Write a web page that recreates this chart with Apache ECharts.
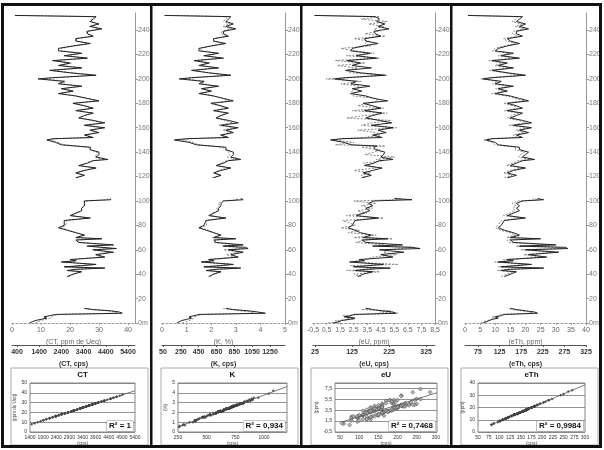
<!DOCTYPE html>
<html><head><meta charset="utf-8">
<script src="https://cdn.jsdelivr.net/npm/echarts@6.0.0/dist/echarts.min.js"></script>
<style>html,body{margin:0;padding:0;background:#fff}#c{width:604px;height:450px}</style>
</head><body><div id="c"></div>
<script>
// ---- data (depth in m; null = gap in the log) ----
const depthM = [0,1,2,3,4,5,6,7,8,9,10,11,12, null,
 38,40,42,43,44,45,46,47,48,50, 51,52,54,56,58,60,61,62,63,64, 66,68,69,70,72,74,76,78,80,84, 86,88,90,92,94,96,98,100,101,102, null,
 119,121,123,125,127,129,131,133,134,136,138,140,142,144, 145,146,148,150,151,152,
 154,156,158,160,162,164,166,168,170,172,174,176,178,180,182,184,186,188,190,192,194,196,198,200, 201,
 203,205,207,209,211,213,215,217,219,221,223,225,227,229,231,233,235,237,239,241,243,245,247,249,251, 252];

const ctPpm = [6,7,8,10,12,11,13,15,38,37,34,28,25, null,
 19,21,24,19,22,32,18,24,29,17, 22,20,32,29,35,28,36,36,26,35, 23,22,31,22,25,22,19,16,18,18, 27,20,22,24,24,25,25,25,34,34, null,
 22,25,22,25,29,23,26,28,33,29,30,30,27,27, 27,17,15,12,14,28,
 25,30,27,32,25,32,28,23,25,28,22,28,25,21,30,26,22,16,21,17,24,16,18,9, 14,
 29,20,13,24,16,20,14,26,18,24,16,16,21,27,22,22,28,26,26,31,27,30,27,28,29, 1];
const ctCps = [1230,1320,1460,1690,1900,1810,2020,2270,4920,4820,4460,3780,3410, null,
 2720,2970,3300,2740,3060,4240,2600,3320,3880,2500, 3080,2830,4220,3900,4570,3780,4710,4690,3550,4590, 3180,3080,4110,3060,3430,3080,2720,2390,2600,2620, 3640,2850,3060,3320,3300,3430,3410,3420,4480,4460, null,
 3080,3410,3060,3430,3880,3200,3530,3780,4340,3900,3990,4010,3660,3640, 3650,2500,2250,1920,2140,3780,
 3430,3990,3660,4220,3410,4240,3760,3200,3430,3760,3060,3780,3410,2970,4010,3530,3080,2370,2970,2480,3320,2390,2600,1580, 2160,
 3880,2850,2020,3320,2370,2850,2140,3550,2600,3320,2390,2370,2970,3640,3080,3060,3780,3550,3530,4130,3640,4010,3660,3760,3880, 650];

const kPct = [0.6,0.7,0.8,1.0,1.2,1.1,1.3,1.5,4.2,3.9,3.5,2.9,2.6, null,
 1.9,2.1,2.4,1.8,2.2,3.2,1.7,2.4,2.9,1.6, 2.1,1.9,3.1,2.8,3.3,2.7,3.5,3.4,2.5,3.3, 2.2,2.1,3.0,2.1,2.4,2.1,1.8,1.5,1.7,1.8, 2.6,1.9,2.1,2.3,2.3,2.4,2.4,2.5,3.3,3.2, null,
 2.1,2.4,2.1,2.4,2.8,2.2,2.5,2.7,3.2,2.8,2.9,2.9,2.6,2.6, 2.6,1.4,1.1,0.5,1.0,2.7,
 2.4,2.9,2.6,3.1,2.4,3.1,2.7,2.2,2.4,2.7,2.1,2.7,2.4,2.0,2.9,2.5,2.1,1.5,2.0,1.6,2.3,1.5,1.7,0.7, 1.2,
 2.8,1.9,1.2,2.3,1.5,1.9,1.3,2.5,1.7,2.3,1.5,1.5,2.0,2.6,2.1,2.1,2.7,2.5,2.5,3.0,2.6,2.9,2.6,2.7,2.8, 0.1];
const kCps = [265,310,300,380,395,400,420,490,1080,1040,910,810,715, null,
 580,600,700,530,650,880,510,670,820,480, 630,560,860,760,900,730,950,890,720,870, 620,640,830,600,690,620,560,460,540,530, 740,580,600,670,650,690,670,720,900,850, null,
 600,690,625,670,790,650,710,760,880,770,800,790,740,720, 730,440,400,260,350,760,
 690,810,720,850,670,830,740,640,700,750,610,770,680,580,790,710,620,470,600,500,660,480,520,290, 410,
 780,560,400,650,470,580,430,700,530,670,480,460,590,730,610,620,760,700,710,820,720,800,730,750,780, 160];

const euPpm = [1.0,1.4,1.6,2.2,2.6,1.8,2.3,2.5,5.6,5.4,4.6,3.9,3.4, null,
 2.8,3.2,3.9,2.6,3.4,5.2,2.5,3.6,4.7,2.2, 3.3,2.9,5.4,4.5,6.2,4.4,7.4,6.8,3.9,6.1, 3.4,3.1,5.0,3.2,3.8,3.0,2.6,2.1,2.4,2.6, 4.3,2.7,3.2,3.7,3.4,3.9,3.6,4.0,6.8,5.5, null,
 3.1,3.8,3.2,3.9,4.6,3.3,4.0,4.4,5.4,4.5,4.7,4.8,4.1,4.0, 4.2,2.3,1.8,0.8,1.6,4.6,
 3.9,4.9,4.3,5.4,3.8,5.3,4.4,3.4,3.9,4.6,3.3,4.5,3.9,3.2,5.0,4.0,3.4,2.3,3.1,2.4,3.7,2.3,2.7,1.1, 1.9,
 4.8,3.0,1.9,3.8,2.4,3.0,2.0,4.2,2.7,3.7,2.3,2.4,3.2,4.3,3.4,3.3,4.5,4.1,4.0,5.1,4.3,4.8,4.2,4.4,4.1, -0.4];
const euCps = [60,95,80,130,110,120,100,150,250,200,230,150,175, null,
 150,130,200,110,185,170,165,120,250,130, 140,160,180,245,210,220,260,285,195,210, 135,160,235,130,190,115,145,95,135,100, 210,110,165,140,180,150,190,130,240,260, null,
 160,150,175,130,190,170,155,210,190,240,160,185,200,150, 215,80,130,75,100,160,
 200,190,140,245,150,180,230,110,160,220,125,210,140,165,195,190,130,120,125,140,145,95,150,55, 120,
 220,120,110,140,85,160,80,200,110,185,130,95,175,160,170,130,215,160,195,185,210,170,220,150,200, 25];

const ethPpm = [6,7,8,9,11,10,12,13,24,23,20,17,15, null,
 13,15,17,12,15,26,12,17,22,11, 16,14,27,21,31,20,34,33,18,30, 16,15,25,15,18,16,13,11,12,13, 20,14,16,18,17,18,17,19,26,24, null,
 14,17,14,16,20,15,17,19,23,19,20,21,18,18, 18,11,10,7,9,19,
 17,21,18,22,16,22,19,15,17,19,14,19,17,14,21,18,15,10,14,11,16,10,12,6, 9,
 20,14,9,16,11,14,9,18,12,16,10,11,14,18,15,14,19,17,17,21,18,20,17,18,19, 1];
const ethCps = [82,87,96,100,116,107,122,127,203,194,176,154,143, null,
 129,141,156,120,143,216,122,155,189,114, 149,134,223,181,250,174,270,261,163,243, 147,142,208,141,162,149,127,116,121,129, 176,134,148,161,156,163,154,169,214,203, null,
 136,154,134,149,176,141,156,167,196,169,174,183,161,163, 162,114,109,87,102,168,
 156,181,163,189,147,187,169,143,154,168,136,167,156,134,183,161,142,107,135,116,148,109,120,81, 101,
 175,136,102,149,114,134,100,163,122,147,108,115,136,161,143,134,169,155,157,181,162,176,154,163,167, 48];

// tick labels
const depthTicks = [0,20,40,60,80,100,120,140,160,180,200,220,240];
const ctPpmTicks = [0,10,20,30,40];
const ctCpsTicks = [400,1400,2400,3400,4400,5400];
const kPctTicks = [0,1,2,3,4,5];
const kCpsTicks = [50,250,450,650,850,1050,1250];
const euPpmTicks = [-0.5,0.5,1.5,2.5,3.5,4.5,5.5,6.5,7.5,8.5];
const euCpsTicks = [25,125,225,325];
const ethPpmTicks = [0,5,10,15,20,25,30,35,40];
const ethCpsTicks = [75,125,175,225,275,325];
const titles = ['CT','K','eU','eTh'];
const r2Labels = ['R\u00b2 = 1','R\u00b2 = 0,934','R\u00b2 = 0,7468','R\u00b2 = 0,9984'];
const ppmNames = ['(CT, ppm de Ueq)','(K, %)','(eU, ppm)','(eTh, ppm)'];
const cpsNames = ['(CT, cps)','(K, cps)','(eU, cps)','(eTh, cps)'];
const scYNames = ['(ppm de Ueq)','(%)','(ppm)','(ppm)'];
const scXTicks = [
  [1400,1900,2400,2900,3400,3900,4400,4900,5400],
  [250,500,750,1000],
  [50,100,150,200,250,300],
  [50,75,100,125,150,175,200,225,250,275,300]
];
const scYTicks = [[0,10,20,30,40,50],[0,1,2,3,4,5],[-0.5,1.5,3.5,5.5,7.5],[0,10,20,30,40]];

// ---- layout ----
const ppmArr = [ctPpm,kPct,euPpm,ethPpm];
const cpsArr = [ctCps,kCps,euCps,ethCps];
const ppmTk = [ctPpmTicks,kPctTicks,euPpmTicks,ethPpmTicks];
const cpsTk = [ctCpsTicks,kCpsTicks,euCpsTicks,ethCpsTicks];
const L = [
 {left:12,width:123,pMin:0,pMax:42.4,cMin:175,cMax:5716},
 {left:162,width:123,pMin:0,pMax:5,cMin:38.8,cMax:1418},
 {left:313,width:122,pMin:-0.5,pMax:8.5,cMin:19.6,cMax:349},
 {left:465,width:121,pMin:0,pMax:40,cMin:45,cMax:325}
];
const S = [
 {left:30,width:105,xMin:1400,xMax:5400,yMin:0,yMax:50,yInt:10},
 {left:178,width:109,xMin:250,xMax:1200,yMin:0,yMax:5,yInt:1},
 {left:335,width:102,xMin:37,xMax:303,yMin:-0.5,yMax:8.5,yInt:2},
 {left:478,width:107,xMin:50,xMax:300,yMin:0,yMax:40,yInt:10}
];
const comma = v => String(v).replace('.',',');
const plain = v => String(v);
const FONT = 'Liberation Sans, Arial, sans-serif';

const grid=[], xAxis=[], yAxis=[], series=[];
for (let i=0;i<4;i++){
  const g=L[i];
  grid.push({left:g.left,width:g.width,top:13,height:310,outerBoundsMode:'none'});
  xAxis.push({type:'value',gridIndex:i,position:'bottom',min:g.pMin,max:g.pMax,
    name:ppmNames[i],nameLocation:'middle',nameGap:16,
    nameTextStyle:{fontSize:7,color:'#666',fontFamily:FONT},
    axisLine:{show:true,onZero:false,lineStyle:{color:'#999',type:[2,2],width:1}},
    axisTick:{show:true,length:2,lineStyle:{color:'#999'},customValues:ppmTk[i]},
    axisLabel:{fontSize:7,color:'#666',margin:4,fontFamily:FONT,customValues:ppmTk[i],formatter:comma},
    splitLine:{show:false}});
  xAxis.push({type:'value',gridIndex:i,position:'bottom',offset:22,min:g.cMin,max:g.cMax,
    name:cpsNames[i],nameLocation:'middle',nameGap:16,
    nameTextStyle:{fontSize:7,color:'#333',fontWeight:'bold',fontFamily:FONT},
    axisLine:{show:true,onZero:false,lineStyle:{color:'#555',width:1}},
    axisTick:{show:true,length:2,lineStyle:{color:'#555'},customValues:cpsTk[i]},
    axisLabel:{fontSize:7,color:'#333',fontWeight:'bold',margin:4,fontFamily:FONT,customValues:cpsTk[i],formatter:plain},
    splitLine:{show:false}});
  yAxis.push({type:'value',gridIndex:i,position:'right',min:0,max:254,
    axisLine:{show:true,onZero:false,lineStyle:{color:'#999'}},
    axisTick:{show:true,length:3,lineStyle:{color:'#999'},customValues:depthTicks},
    axisLabel:{fontSize:7,color:'#777',margin:3,fontFamily:FONT,customValues:depthTicks,formatter:v=>v===0?'0m':String(v)},
    splitLine:{show:false}});
  const cpsPts = depthM.map((d,j)=> (d==null||cpsArr[i][j]==null)?[null,null]:[cpsArr[i][j],d]);
  const ppmPts = depthM.map((d,j)=> (d==null||ppmArr[i][j]==null)?[null,null]:[ppmArr[i][j],d]);
  series.push({type:'line',xAxisIndex:2*i+1,yAxisIndex:i,data:cpsPts,showSymbol:false,symbol:'none',
    lineStyle:{color:'#888',width:1,type:[2,1.5]},animation:false,silent:true,z:2});
  series.push({type:'line',xAxisIndex:2*i,yAxisIndex:i,data:ppmPts,showSymbol:false,symbol:'none',
    lineStyle:{color:'#222',width:1},animation:false,silent:true,z:3});
}
// scatter panels
for (let i=0;i<4;i++){
  const s=S[i], gi=4+i;
  grid.push({left:s.left,width:s.width,top:383,height:49,show:true,borderColor:'#888',borderWidth:1,backgroundColor:'#fff',outerBoundsMode:'none'});
  xAxis.push({type:'value',gridIndex:gi,min:s.xMin,max:s.xMax,
    name:'(cps)',nameLocation:'middle',nameGap:9,nameTextStyle:{fontSize:5,color:'#444',fontFamily:FONT},
    axisLine:{show:false},axisTick:{show:false},
    axisLabel:{fontSize:5,color:'#333',margin:3,fontFamily:FONT,customValues:scXTicks[i],formatter:plain},
    splitLine:{show:false}});
  yAxis.push({type:'value',gridIndex:gi,min:s.yMin,max:s.yMax,interval:s.yInt,
    name:scYNames[i],nameLocation:'middle',nameGap:10,nameRotate:90,nameTextStyle:{fontSize:4.5,color:'#444',fontFamily:FONT},
    axisLine:{show:false},axisTick:{show:false},
    axisLabel:{fontSize:5,color:'#333',margin:3,fontFamily:FONT,customValues:scYTicks[i],formatter:comma},
    splitLine:{show:true,lineStyle:{color:'#777',width:0.8}}});
  const pts=[];
  for (let j=0;j<depthM.length;j++){
    const x=cpsArr[i][j], y=ppmArr[i][j];
    if (x==null||y==null) continue;
    if (x<s.xMin||x>s.xMax||y<s.yMin||y>s.yMax) continue;
    pts.push([x,y]);
  }
  // least-squares trend line
  let n=pts.length,sx=0,sy=0,sxx=0,sxy=0;
  pts.forEach(p=>{sx+=p[0];sy+=p[1];sxx+=p[0]*p[0];sxy+=p[0]*p[1];});
  const b=(n*sxy-sx*sy)/(n*sxx-sx*sx), a=(sy-b*sx)/n;
  const xs=pts.map(p=>p[0]); const x0=Math.min(...xs), x1=s.xMax;
  series.push({type:'scatter',xAxisIndex:8+i,yAxisIndex:4+i,data:pts,symbol:'diamond',
    symbolSize:i===2?4:3,itemStyle:{color:i===2?'#aaa':'#333',borderColor:'#333',borderWidth:i===2?0.6:0},
    animation:false,silent:true,z:3});
  series.push({type:'line',xAxisIndex:8+i,yAxisIndex:4+i,data:[[x0,a+b*x0],[x1,a+b*x1]],symbol:'none',
    lineStyle:{color:'#555',width:0.8},animation:false,silent:true,z:4});
}

const graphic=[];
const bx=[11,161,311,461];
for (let i=0;i<4;i++){
  graphic.push({type:'rect',shape:{x:bx[i],y:368,width:137,height:77},style:{fill:'#fff',stroke:'#aaa',lineWidth:1},z:-1});
  graphic.push({type:'text',x:S[i].left+S[i].width/2,y:375,style:{text:titles[i],font:'bold 8px '+FONT,fill:'#111',textAlign:'center',textVerticalAlign:'middle'},z:10});
  graphic.push({type:'text',x:S[i].left+S[i].width-2,y:426,style:{text:r2Labels[i],font:'bold 8px '+FONT,fill:'#111',textAlign:'right',textVerticalAlign:'middle',backgroundColor:'#fff',borderColor:'#888',borderWidth:0.5,padding:[1,2]},z:10});
}
// frame
const fr=[[1,3,601,3],[1,3,3,445],[150,3,2.5,445],[300,3,2.5,445],[450,3,2.5,445],[599,3,3,445],[1,445,601,3]];
fr.forEach(r=>graphic.push({type:'rect',shape:{x:r[0],y:r[1],width:r[2],height:r[3]},style:{fill:'#111'},z:20}));

const chart=echarts.init(document.getElementById('c'),null,{renderer:'canvas'});
chart.setOption({animation:false,backgroundColor:'#fff',grid,xAxis,yAxis,series,graphic});
</script></body></html>
